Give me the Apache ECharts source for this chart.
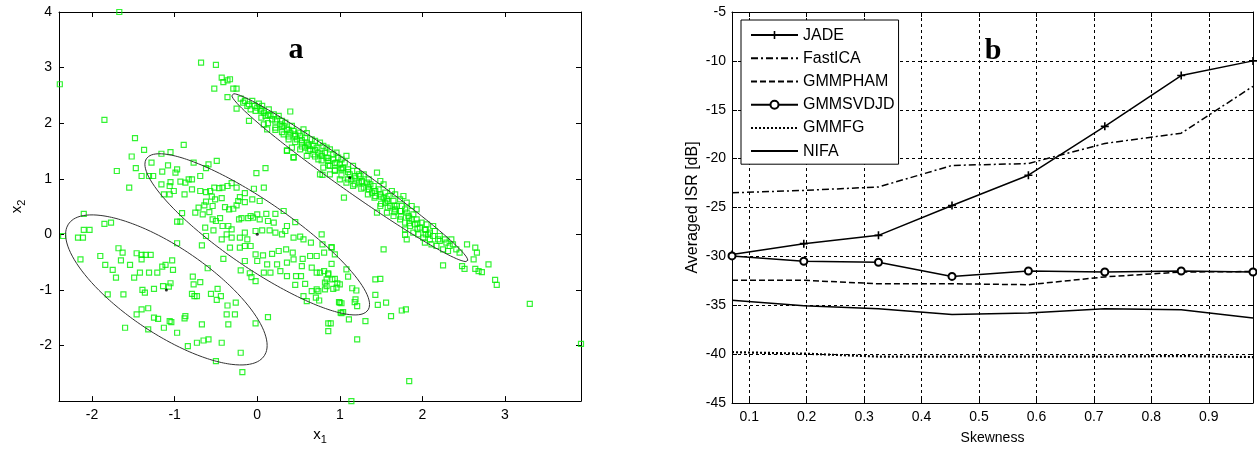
<!DOCTYPE html>
<html><head><meta charset="utf-8">
<script src="https://cdn.jsdelivr.net/npm/echarts@6/dist/echarts.min.js"></script>
<style>html,body{margin:0;padding:0;background:#fff}#c{width:1257px;height:450px}</style>
</head><body><div id="c"></div>
<script>
// ---------- Panel a: scatter samples [x1, x2] ----------
const samplesCluster1 = [[-2.10,0.37],[-1.85,0.19],[-1.77,0.21],[-2.10,0.08],[-2.03,0.08],[-2.17,-0.06],[-2.11,-0.06],[-2.35,-0.03],[-2.14,-0.45],[-1.90,-0.39],[-1.68,-0.25],[-1.63,-0.33],[-1.46,-0.34],[-1.40,-0.37],[-1.35,-0.37],[-1.29,-0.37],[-1.40,-0.45],[-1.84,-0.55],[-1.65,-0.47],[-1.54,-0.55],[-1.75,-0.64],[-1.71,-0.78],[-1.42,-0.69],[-1.31,-0.69],[-1.21,-0.69],[-1.49,-0.78],[-1.15,-0.58],[-1.11,-0.55],[-1.03,-0.47],[-1.02,-0.64],[-0.97,-0.16],[-0.78,-0.76],[-0.69,-0.86],[-0.77,-0.90],[-1.05,-0.88],[-1.07,-0.94],[-1.14,-0.93],[-1.25,-0.98],[-1.39,-1.00],[-1.36,-1.05],[-1.81,-1.08],[-1.62,-1.08],[-0.79,-1.07],[-0.76,-1.11],[-0.73,-1.11],[-0.56,-1.07],[-0.48,-0.98],[-0.44,-1.11],[-0.49,-1.18],[-0.36,-1.28],[-0.26,-1.23],[-0.37,-1.44],[-0.27,-1.44],[-0.35,-1.62],[-0.67,-1.62],[-0.87,-1.47],[-0.88,-1.51],[-1.06,-1.56],[-1.04,-1.58],[-1.25,-1.50],[-1.20,-1.52],[-1.32,-1.33],[-1.40,-1.35],[-1.46,-1.44],[-1.13,-1.68],[-1.32,-1.71],[-1.60,-1.68],[-0.97,-1.77],[-0.84,-2.01],[-0.73,-1.95],[-0.65,-1.91],[-0.59,-1.89],[-0.43,-1.95],[-0.20,-2.13],[-0.50,-2.28],[-0.18,-2.48],[-0.02,-1.60],[-0.60,-0.61],[-0.67,-0.20],[-0.41,-0.44],[-0.20,-0.65],[-0.07,-0.77],[-0.02,-0.84],[-0.09,-0.70]];
const samplesCluster2 = [[-1.48,1.73],[-1.37,1.52],[-1.52,1.40],[-1.47,1.19],[-1.40,1.05],[-1.31,1.05],[-1.26,1.05],[-1.28,1.29],[-1.16,1.45],[-1.05,1.48],[-0.89,1.61],[-0.10,2.04],[-0.01,1.10],[0.10,1.19],[-0.49,1.32],[-0.59,1.26],[-0.77,1.29],[-0.62,1.19],[-0.69,1.05],[-0.79,0.99],[-1.15,1.13],[-1.08,1.24],[-0.99,1.11],[-0.97,1.17],[-1.16,0.90],[-1.05,0.94],[-1.06,0.87],[-0.93,0.95],[-0.87,0.93],[-0.83,0.99],[-1.13,0.72],[-1.06,0.72],[-1.01,0.78],[-0.88,0.72],[-0.79,0.81],[-0.69,0.78],[-0.62,0.76],[-0.57,0.78],[-0.52,0.84],[-0.46,0.83],[-0.42,0.84],[-0.36,0.87],[-0.31,0.92],[-0.25,0.84],[-0.55,0.68],[-0.51,0.63],[-0.62,0.59],[-0.64,0.52],[-0.54,0.51],[-0.43,0.65],[-0.39,0.49],[-0.34,0.45],[-0.21,0.67],[-0.23,0.60],[-0.25,0.52],[-0.29,0.46],[-0.15,0.74],[-0.15,0.58],[-0.06,0.63],[-0.04,0.82],[0.08,0.84],[0.03,0.60],[-0.91,0.38],[-0.97,0.23],[-0.93,0.23],[-0.75,0.39],[-0.71,0.48],[-0.66,0.36],[-0.58,0.40],[-0.54,0.27],[-0.50,0.24],[-0.45,0.29],[-0.42,0.15],[-0.35,0.15],[-0.31,0.09],[-0.22,0.27],[-0.19,0.29],[-0.11,0.29],[-0.08,0.33],[0.00,0.36],[0.11,0.37],[0.22,0.37],[0.32,0.42],[0.46,0.22],[0.36,0.15],[0.20,0.21],[0.13,0.24],[0.03,0.27],[-0.05,0.30],[-0.63,0.12],[-0.53,0.07],[-0.62,-0.03],[-0.37,0.00],[-0.31,-0.06],[-0.21,-0.06],[-0.15,0.03],[-0.12,-0.09],[-0.02,0.06],[0.06,0.07],[0.15,0.07],[0.22,0.03],[0.30,0.00],[0.34,0.06],[0.44,-0.06],[0.52,-0.04],[0.56,-0.09],[0.65,-0.15],[0.78,0.00],[0.79,-0.18],[0.90,-0.23],[0.81,-0.33],[0.72,-0.39],[0.64,-0.39],[0.55,-0.44],[0.43,-0.33],[0.35,-0.27],[0.26,-0.30],[0.18,-0.35],[0.07,-0.38],[-0.02,-0.36],[-0.08,-0.21],[-0.15,-0.21],[-0.21,-0.24],[-0.33,-0.24],[-0.43,-0.09],[-0.15,-0.48],[0.00,-0.48],[0.12,-0.54],[0.24,-0.54],[0.36,-0.51],[0.44,-0.45],[0.54,-0.57],[0.66,-0.60],[0.72,-0.69],[0.86,-0.70],[0.91,-0.81],[0.97,-0.88],[0.84,-0.93],[0.72,-0.99],[0.58,-0.89],[0.46,-0.91],[0.36,-0.75],[0.28,-0.66],[0.16,-0.69],[0.08,-0.69],[0.47,-0.75],[0.53,-0.75],[0.66,-1.02],[0.75,-1.19],[0.82,-0.99],[0.99,-1.22],[1.01,-1.41],[0.56,-1.11],[0.13,-1.49],[1.21,-1.89],[1.62,-1.47],[1.75,-1.37],[1.80,-1.35],[1.56,-1.23],[1.46,-1.27],[1.43,-1.09],[1.43,-0.81],[1.49,-0.80],[1.31,-1.56],[1.11,-1.53],[1.19,-1.17],[1.18,-1.22],[1.21,-1.29],[1.00,-1.23],[1.02,-1.24],[1.15,-0.97],[1.20,-1.01],[1.08,-0.63],[1.10,-0.76],[0.94,-0.36],[0.90,-0.53],[0.94,-0.80],[1.00,-0.90],[0.92,-0.98],[0.96,-0.96],[1.04,-1.40],[0.90,-0.24],[1.02,-1.42],[0.86,-1.60],[0.89,-1.60],[0.86,-1.74],[0.81,-0.66],[0.84,-0.81],[0.86,-0.72],[0.76,-0.69],[0.82,-0.87],[0.74,-1.02],[0.71,-1.14],[0.60,-1.20],[-1.70,1.14],[-1.55,0.84]];
const samplesCluster3 = [[-0.20,2.44],[-0.15,2.40],[-0.12,2.31],[-0.06,2.40],[-0.03,2.31],[0.02,2.35],[-0.02,2.22],[-0.08,2.25],[0.04,2.25],[0.08,2.19],[0.14,2.25],[0.16,2.13],[0.20,2.16],[0.24,2.07],[0.30,2.04],[0.34,2.01],[0.28,1.98],[0.08,1.98],[0.12,1.89],[0.22,1.92],[0.36,1.89],[0.40,1.83],[0.44,1.86],[0.50,1.83],[0.56,1.89],[0.60,1.82],[0.32,1.80],[0.38,1.71],[0.48,1.71],[0.54,1.65],[0.60,1.65],[0.66,1.71],[0.70,1.68],[0.76,1.65],[0.80,1.59],[0.84,1.56],[0.88,1.53],[0.64,1.53],[0.58,1.56],[0.52,1.53],[0.42,1.56],[0.36,1.51],[0.44,1.38],[0.60,1.41],[0.68,1.44],[0.74,1.47],[0.78,1.41],[0.84,1.38],[0.92,1.44],[0.96,1.47],[1.02,1.35],[1.08,1.41],[1.06,1.29],[0.96,1.29],[0.88,1.23],[0.80,1.20],[0.76,1.08],[0.88,1.08],[0.94,1.14],[1.02,1.17],[1.10,1.17],[1.16,1.23],[1.21,1.14],[1.25,1.05],[1.29,1.08],[1.35,0.99],[1.14,0.99],[1.08,0.93],[1.00,0.99],[1.16,0.87],[1.23,0.93],[1.29,0.84],[1.35,0.81],[1.41,0.87],[1.47,0.81],[1.53,0.90],[1.45,1.11],[1.49,0.96],[1.39,0.75],[1.43,0.69],[1.49,0.72],[1.55,0.75],[1.59,0.69],[1.63,0.78],[1.67,0.72],[1.73,0.63],[1.77,0.69],[1.81,0.57],[1.87,0.51],[1.93,0.45],[1.89,0.36],[1.81,0.39],[1.73,0.42],[1.67,0.45],[1.61,0.51],[1.55,0.57],[1.49,0.51],[1.45,0.39],[1.57,0.39],[1.65,0.33],[1.73,0.27],[1.79,0.21],[1.85,0.15],[1.91,0.18],[1.97,0.12],[2.03,0.09],[2.09,0.03],[2.15,0.06],[2.19,-0.09],[2.09,-0.09],[2.01,-0.06],[1.95,0.00],[1.89,0.03],[2.13,0.15],[2.21,-0.12],[2.29,-0.15],[2.35,-0.09],[2.37,-0.18],[2.25,-0.27],[2.33,-0.21],[2.41,-0.27],[2.45,-0.33],[2.17,-0.21],[2.03,-0.15],[2.11,-0.18],[1.79,0.09],
[-0.17,2.37],[-0.10,2.34],[0.00,2.28],[0.06,2.31],[0.10,2.13],[0.18,2.07],[0.26,2.13],[0.32,1.95],[0.42,1.95],[0.46,1.77],[0.52,1.77],[0.58,1.74],[0.62,1.62],[0.68,1.59],[0.72,1.56],[0.74,1.35],[0.82,1.47],[0.86,1.32],[0.92,1.35],[0.98,1.38],[1.00,1.26],[1.04,1.20],[1.12,1.08],[1.18,1.05],[1.23,1.08],[1.27,0.96],[1.33,0.93],[1.37,0.90],[1.43,0.78],[1.53,0.66],[1.57,0.63],[1.65,0.60],[1.69,0.51],[1.75,0.51],[1.79,0.45],[1.83,0.33],[1.87,0.27],[1.93,0.27],[1.99,0.21],[2.05,0.18],[2.07,0.00],[2.13,-0.03],[2.21,-0.03],[2.27,-0.09],[2.31,-0.30],
[0.05,2.10],[0.05,2.22],[0.13,2.00],[0.13,2.15],[0.22,2.03],[0.22,1.88],[0.30,1.84],[0.30,1.94],[0.38,1.88],[0.38,1.76],[0.46,1.66],[0.46,1.80],[0.54,1.70],[0.54,1.58],[0.62,1.50],[0.62,1.60],[0.70,1.52],[0.70,1.40],[0.78,1.33],[0.78,1.45],[0.86,1.37],[0.86,1.24],[0.94,1.16],[0.94,1.28],[1.02,1.19],[1.02,1.06],[1.10,0.99],[1.10,1.12],[1.18,1.02],[1.18,0.90],[1.26,0.82],[1.26,0.94],[1.34,0.86],[1.34,0.72],[1.42,0.66],[1.42,0.78],[1.50,0.68],[1.50,0.55],[1.58,0.48],[1.58,0.60],[1.66,0.52],[1.66,0.40],[1.74,0.32],[1.74,0.42],[1.84,0.30],[1.84,0.20],[1.94,0.10],[1.94,0.20],[2.04,0.08],[2.04,0.00],
[1.05,0.66],[0.79,1.07],[0.44,1.39],[0.36,1.50]];
const samplesOutliers = [[-1.67,4.0],[-2.39,2.70],[-1.85,2.06],[-0.68,3.09],[-0.50,3.05],[-0.43,2.82],[-0.41,2.74],[-0.36,2.77],[-0.33,2.79],[-0.52,2.62],[-0.36,2.47],[-0.29,2.62],[-0.25,2.62],[-0.25,2.26],[0.40,2.21],[1.53,-0.27],[1.79,-0.01],[1.81,-0.09],[2.25,-0.56],[2.54,-0.18],[2.64,-0.24],[2.66,-0.33],[2.62,-0.45],[2.80,-0.54],[2.48,-0.57],[2.51,-0.62],[2.64,-0.62],[2.68,-0.66],[2.72,-0.68],[2.88,-0.82],[2.90,-0.91],[3.30,-1.25],[1.84,-2.64],[1.14,-3.0],[3.92,-1.97]];

// Gaussian component parameters (mean, std devs, correlation) for the ellipses
const compMeanX = [-1.10, 0.00, 1.12];
const compMeanY = [-1.00, 0.00, 1.02];
const compSdX = [1.22, 1.36, 1.43];
const compSdY = [1.35, 1.45, 1.51];
const compRho = [-0.74, -0.87, -0.984];

const ticksA_x = [-2, -1, 0, 1, 2, 3];
const ticksA_y = [-2, -1, 0, 1, 2, 3, 4];

// ---------- Panel b ----------
const skewness = [0.07, 0.195, 0.325, 0.453, 0.586, 0.719, 0.852, 0.977];
const isrJADE     = [-29.8, -28.7, -27.85, -24.8, -21.7, -16.7, -11.5, -10.0];
const isrFastICA  = [-23.5, -23.25, -22.9, -20.7, -20.5, -18.45, -17.4, -12.6];
const isrGMMPHAM  = [-32.45, -32.45, -32.8, -32.8, -32.9, -32.1, -31.6, -31.55];
const isrGMMSVDJD = [-29.95, -30.5, -30.6, -32.05, -31.5, -31.6, -31.5, -31.6];
const isrGMMFG    = [-39.8, -39.95, -40.25, -40.25, -40.25, -40.25, -40.2, -40.3];
const isrNIFA     = [-34.5, -35.05, -35.35, -35.95, -35.8, -35.35, -35.45, -36.3];
const ticksB_x = [0.1, 0.2, 0.3, 0.4, 0.5, 0.6, 0.7, 0.8, 0.9];
const seriesNames = ['JADE', 'FastICA', 'GMMPHAM', 'GMMSVDJD', 'GMMFG', 'NIFA'];

// ---------- build ----------
const FONT = '"Liberation Sans", Arial, sans-serif';
function ellipse(i) {
  const out = [];
  const n = 240;
  const k = Math.sqrt(1 - compRho[i] * compRho[i]);
  for (let j = 0; j <= n; j++) {
    const t = 2 * Math.PI * j / n;
    out.push([compMeanX[i] + compSdX[i] * Math.cos(t),
              compMeanY[i] + compSdY[i] * (compRho[i] * Math.cos(t) + k * Math.sin(t))]);
  }
  return out;
}
const pair = arr => skewness.map((s, i) => [s, arr[i]]);

const axisLine = { show: true, onZero: false, lineStyle: { color: '#000', width: 1 } };
const label = { color: '#000', fontSize: 14, fontFamily: FONT };
function tick(vals) { const t = { show: true, inside: true, length: 5, lineStyle: { color: '#000' } }; if (vals) t.customValues = vals; return t; }
const gridLine = { show: true, lineStyle: { color: '#000', width: 1, type: [3, 3] } };

const allSamples = samplesCluster1.concat(samplesCluster2, samplesCluster3, samplesOutliers);

const series = [
  { type: 'scatter', xAxisIndex: 0, yAxisIndex: 0, data: allSamples, symbol: 'rect', symbolSize: 5,
    itemStyle: { color: 'rgba(255,255,255,0)', borderColor: '#00f000', borderWidth: 1.2 }, silent: true, z: 2 },
];
for (let i = 0; i < 3; i++) {
  series.push({ type: 'line', xAxisIndex: 0, yAxisIndex: 0, data: ellipse(i), showSymbol: false, silent: true,
    lineStyle: { color: '#333', width: 1 }, z: 3 });
}
series.push({ type: 'scatter', xAxisIndex: 0, yAxisIndex: 0, data: compMeanX.map((x, i) => [x, compMeanY[i]]),
  symbol: 'circle', symbolSize: 3, itemStyle: { color: '#000' }, silent: true, z: 4 });

const plus = 'path://M4,0H6V4H10V6H6V10H4V6H0V4H4Z';
const lineDefs = [
  { name: 'JADE', d: isrJADE, type: 'solid', width: 1.5, symbol: plus, size: 8 },
  { name: 'FastICA', d: isrFastICA, type: [7, 3, 2, 3], width: 1.5, symbol: 'none' },
  { name: 'GMMPHAM', d: isrGMMPHAM, type: [6, 3], width: 1.5, symbol: 'none' },
  { name: 'GMMSVDJD', d: isrGMMSVDJD, type: 'solid', width: 1.5, symbol: 'circle', size: 7 },
  { name: 'GMMFG', d: isrGMMFG, type: [2, 2], width: 2.2, symbol: 'none' },
  { name: 'NIFA', d: isrNIFA, type: 'solid', width: 1.5, symbol: 'none' },
];
lineDefs.forEach(L => {
  const s = { type: 'line', name: L.name, xAxisIndex: 2, yAxisIndex: 2, data: pair(L.d),
    lineStyle: { color: '#000', width: L.width, type: L.type }, symbol: L.symbol, symbolSize: L.size || 4,
    showSymbol: L.symbol !== 'none', silent: true, z: 5, color: '#000' };
  if (L.symbol === 'circle') s.itemStyle = { color: '#fff', borderColor: '#000', borderWidth: 2 };
  else s.itemStyle = { color: '#000', borderWidth: 0 };
  series.push(s);
});

const legendData = lineDefs.map(L => L.symbol === 'none'
  ? { name: L.name, itemStyle: { opacity: 0 } }
  : { name: L.name });

const option = {
  animation: false,
  backgroundColor: '#fff',
  grid: [
    { left: 59, top: 12, width: 522, height: 390 },
    { left: 732, top: 12, width: 521, height: 391 },
  ],
  xAxis: [
    { type: 'value', gridIndex: 0, min: -2.4, max: 3.92, axisLine, axisTick: tick(ticksA_x),
      axisLabel: Object.assign({ customValues: ticksA_x, margin: 7 }, label), splitLine: { show: false },
      name: '{i|x}{s|1}', nameLocation: 'middle', nameGap: 22,
      nameTextStyle: { color: '#000', fontFamily: FONT, rich: { i: { fontSize: 15, fontFamily: FONT, color: '#000' }, s: { fontSize: 11, fontFamily: FONT, color: '#000', padding: [10, 0, 0, 0] } } } },
    { type: 'value', gridIndex: 0, position: 'top', min: -2.4, max: 3.92, axisLine, axisTick: tick(ticksA_x),
      axisLabel: { show: false, customValues: ticksA_x }, splitLine: { show: false } },
    { type: 'value', gridIndex: 1, min: 0.07, max: 0.977, axisLine, axisTick: tick(ticksB_x),
      axisLabel: Object.assign({ customValues: ticksB_x, margin: 7 }, label), splitLine: gridLine,
      name: 'Skewness', nameLocation: 'middle', nameGap: 28, nameTextStyle: { color: '#000', fontSize: 14, fontFamily: FONT } },
    { type: 'value', gridIndex: 1, position: 'top', min: 0.07, max: 0.977, axisLine, axisTick: tick(ticksB_x),
      axisLabel: { show: false, customValues: ticksB_x }, splitLine: { show: false } },
  ],
  yAxis: [
    { type: 'value', gridIndex: 0, min: -3, max: 4, axisLine, axisTick: tick(ticksA_y),
      axisLabel: Object.assign({ customValues: ticksA_y, margin: 7 }, label), splitLine: { show: false },
      name: '{i|x}{s|2}', nameLocation: 'middle', nameGap: 32, nameRotate: 90,
      nameTextStyle: { color: '#000', fontFamily: FONT, rich: { i: { fontSize: 15, fontFamily: FONT, color: '#000' }, s: { fontSize: 11, fontFamily: FONT, color: '#000', padding: [10, 0, 0, 0] } } } },
    { type: 'value', gridIndex: 0, position: 'right', min: -3, max: 4, axisLine, axisTick: tick(ticksA_y),
      axisLabel: { show: false, customValues: ticksA_y }, splitLine: { show: false } },
    { type: 'value', gridIndex: 1, min: -45, max: -5, interval: 5, axisLine, axisTick: tick(),
      axisLabel: Object.assign({ margin: 6 }, label), splitLine: gridLine,
      name: 'Averaged ISR [dB]', nameLocation: 'middle', nameGap: 31, nameRotate: 90,
      nameTextStyle: { color: '#000', fontSize: 16, fontFamily: FONT } },
    { type: 'value', gridIndex: 1, position: 'right', min: -45, max: -5, interval: 5, axisLine, axisTick: tick(),
      axisLabel: { show: false }, splitLine: { show: false } },
  ],
  legend: {
    data: legendData, orient: 'vertical', left: 741, top: 20,
    itemWidth: 47, itemHeight: 10, itemGap: 7, padding: [7, 4, 5, 9],
    backgroundColor: '#fff', borderColor: '#000', borderWidth: 1, borderRadius: 0,
    textStyle: { color: '#000', fontSize: 16, fontFamily: FONT, lineHeight: 16.2 },
    selectedMode: false, z: 10
  },
  graphic: [
    { type: 'text', x: 296, y: 50, z: 20, style: { text: 'a', font: 'bold 30px "Liberation Serif", serif', textAlign: 'center', textVerticalAlign: 'middle', fill: '#000' } },
    { type: 'text', x: 993, y: 51, z: 20, style: { text: 'b', font: 'bold 30px "Liberation Serif", serif', textAlign: 'center', textVerticalAlign: 'middle', fill: '#000' } },
  ],
  series
};
const chart = echarts.init(document.getElementById('c'), null, { renderer: 'canvas' });
chart.setOption(option);
</script>
</body></html>
